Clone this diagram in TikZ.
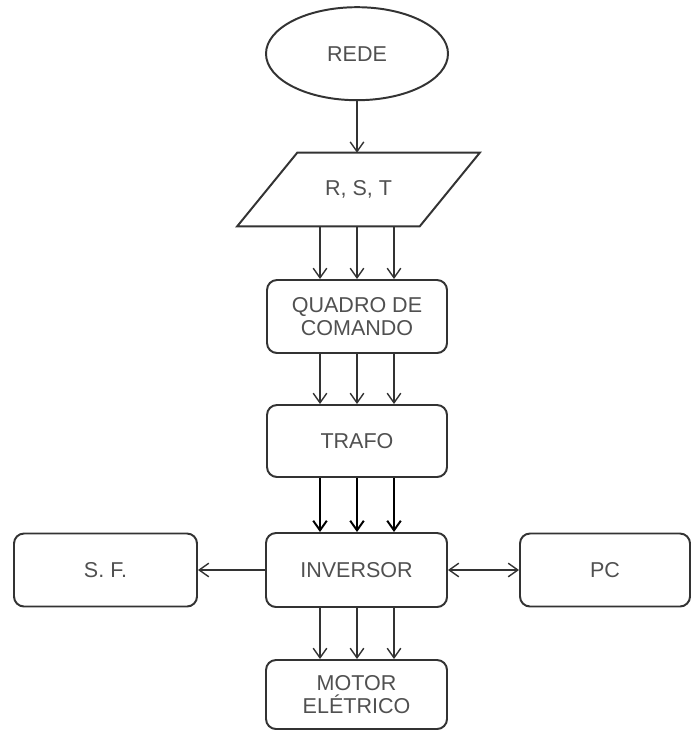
\documentclass[tikz,border=0pt]{standalone}
\usepackage{fontspec}
\setmainfont{Liberation Sans}
\usetikzlibrary{arrows.meta,shapes.geometric}
\definecolor{edge}{HTML}{333333}
\definecolor{txt}{HTML}{505050}

\begin{document}
\begin{tikzpicture}[>={Straight Barb[length=2.4mm,width=3.4mm]},
 font=\fontsize{15.3}{16.5}\selectfont,
 box/.style={draw=edge,line width=1.4pt,rounded corners=2.5mm,text=txt,align=center,minimum width=4.5cm,minimum height=1.825cm},
 wire/.style={edge,line width=1pt,->},
 bus/.style={black,line width=1.4pt,->}]
 \useasboundingbox (0,0) rectangle (17.275,-18.275);
 % source and phases
 \node[ellipse,draw=edge,line width=1.4pt,text=txt,minimum width=4.55cm,minimum height=2.325cm] (rede) at (8.925,-1.3425) {REDE};
 \node[text=txt,minimum width=4.55cm,minimum height=1.825cm] (rst) at (8.9625,-4.7375) {R, S, T};
 \draw[edge,line width=1.4pt] ([xshift=-.75cm]rst.south west)--([xshift=-.75cm]rst.south east)--([xshift=.75cm]rst.north east)--([xshift=.75cm]rst.north west)--cycle;
 % blocks
 \node[box] (quadro) at (8.925,-7.9125) {QUADRO DE\\COMANDO};
 \node[box,minimum height=1.8cm] (trafo) at (8.925,-11.025) {TRAFO};
 \node[box,minimum width=4.525cm,minimum height=1.85cm] (inv) at (8.9125,-14.25) {INVERSOR};
 \node[box,minimum width=4.575cm] (sf) at (2.6375,-14.25) {S. F.};
 \node[box,minimum width=4.25cm] (pc) at (15.125,-14.25) {PC};
 \node[box,minimum width=4.525cm,minimum height=1.725cm] (motor) at (8.9125,-17.3625) {MOTOR\\EL\'ETRICO};
 % connections
 \draw[wire] (rede.south) -- (rede.south |- rst.north);
 \foreach \dx in {-.925,0,.925}{
  \draw[wire] ([xshift=\dx cm]quadro.north |- rst.south) -- ([xshift=\dx cm]quadro.north);
  \draw[wire] ([xshift=\dx cm]quadro.south) -- ([xshift=\dx cm]trafo.north);
  \draw[bus] ([xshift=\dx cm]trafo.south) -- ([xshift=\dx cm]trafo.south |- inv.north);
  \draw[wire] ([xshift=\dx cm]trafo.south |- inv.south) -- ([xshift=\dx cm]trafo.south |- motor.north);
 }
 \draw[wire] (inv.west) -- (sf.east);
 \draw[wire,<->] (inv.east) -- (pc.west);
\end{tikzpicture}
\end{document}
